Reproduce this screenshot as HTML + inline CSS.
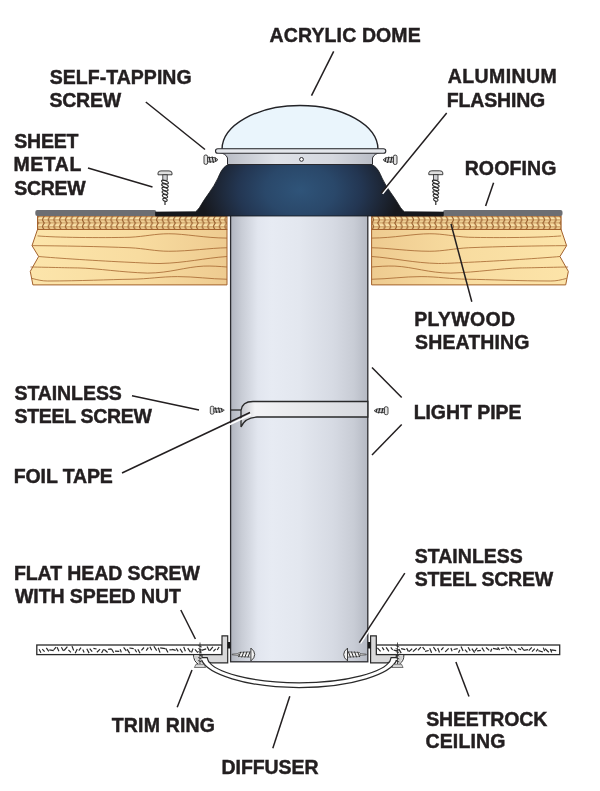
<!DOCTYPE html>
<html><head><meta charset="utf-8">
<style>
html,body{margin:0;padding:0;background:#fff;width:600px;height:791px;overflow:hidden}
svg{position:absolute;left:0;top:0;will-change:transform}
.t{font-family:"Liberation Sans",sans-serif;font-weight:bold;font-size:19.5px;fill:#231f20;stroke:#231f20;stroke-width:0.45px}
</style></head><body>
<svg width="600" height="791" viewBox="0 0 600 791">
<defs>
<linearGradient id="pipeG" x1="0" x2="1" y1="0" y2="0">
<stop offset="0" stop-color="#b1b5bf"/>
<stop offset="0.08" stop-color="#c8ccd5"/>
<stop offset="0.2" stop-color="#e2e6ef"/>
<stop offset="0.3" stop-color="#e7ebf3"/>
<stop offset="0.5" stop-color="#e3e7ef"/>
<stop offset="0.75" stop-color="#d6dae3"/>
<stop offset="0.9" stop-color="#c8ccd5"/>
<stop offset="1" stop-color="#b5b9c3"/>
</linearGradient>
<linearGradient id="woodL" x1="30" x2="227" y1="0" y2="0" gradientUnits="userSpaceOnUse">
<stop offset="0" stop-color="#fce5ab"/>
<stop offset="0.55" stop-color="#f8dca0"/>
<stop offset="1" stop-color="#eecb90"/>
</linearGradient>
<linearGradient id="woodR" x1="371" x2="568" y1="0" y2="0" gradientUnits="userSpaceOnUse">
<stop offset="0" stop-color="#eecb90"/>
<stop offset="0.45" stop-color="#f8dca0"/>
<stop offset="1" stop-color="#fce4a9"/>
</linearGradient>
<radialGradient id="flashG" cx="300" cy="190" r="100" gradientUnits="userSpaceOnUse" gradientTransform="translate(300 190) scale(1 0.7) translate(-300 -190)">
<stop offset="0" stop-color="#2f5479"/>
<stop offset="0.35" stop-color="#2a486a"/>
<stop offset="0.62" stop-color="#233652"/>
<stop offset="0.85" stop-color="#1c2432"/>
<stop offset="1" stop-color="#16181d"/>
</radialGradient>
<linearGradient id="ringG" x1="0" x2="1" y1="0" y2="0">
<stop offset="0" stop-color="#b5b9c2"/>
<stop offset="0.35" stop-color="#dfe2e8"/>
<stop offset="0.7" stop-color="#d5d8df"/>
<stop offset="1" stop-color="#b5b9c2"/>
</linearGradient>
<pattern id="herr" x="2.2" y="216.25" width="5.7" height="6.75" patternUnits="userSpaceOnUse">
<rect width="5.7" height="6.75" fill="#e6c084"/>
<rect y="1.3" width="5.7" height="2" fill="#fce7b0"/>
<rect y="4.6" width="5.7" height="1.6" fill="#efd095"/>
<path d="M0 3.6 L5.7 3.6" stroke="#c08c52" stroke-width="0.7"/>
<path d="M0 6.85 L5.7 6.85" stroke="#b07a44" stroke-width="0.7"/>
<path d="M2.3 -0.2 L0.1 3.5 L2.3 6.95" fill="none" stroke="#93592a" stroke-width="1.05"/>
</pattern>

<linearGradient id="tapeG" x1="241" x2="368" y1="0" y2="0" gradientUnits="userSpaceOnUse">
<stop offset="0" stop-color="#c4c6cc"/>
<stop offset="0.11" stop-color="#f3f3f5"/>
<stop offset="0.5" stop-color="#e7e8eb"/>
<stop offset="1" stop-color="#d6d8dd"/>
</linearGradient>
<linearGradient id="woodLm" x1="30" x2="227" y1="0" y2="0" gradientUnits="userSpaceOnUse">
<stop offset="0" stop-color="#fce4a9"/>
<stop offset="0.55" stop-color="#f8dca0"/>
<stop offset="1" stop-color="#eecb90"/>
</linearGradient>
</defs>

<!-- WOOD LEFT -->
<g id="woodLeft">
<path d="M37.5 229.5 L227 229.5 L227 284.9 L32.9 284.9 L30.25 271.4 L38.65 256.5 L32 245.65 L37.5 229.5 Z" fill="url(#woodL)" stroke="#a3612c" stroke-width="1"/>
<rect x="37.5" y="216" width="189.5" height="13.5" fill="url(#herr)" stroke="#a3612c" stroke-width="1"/>
<g fill="none" stroke="#a5652f" stroke-width="0.8">
<path d="M37.5 235.9 C55 237.5 100 238 130 237.25 C145 236.5 155 233.75 168.75 233.75 C185 233.75 205 238 227 238.1"/>
<path d="M32 245.65 C60 245.8 100 246.5 130 247.75 C145 248.5 155 251.25 168.75 251.25 C190 251.25 210 248 227 247.75"/>
<path d="M38.65 256.5 C55 258 100 261 130 262.3 C145 263 152 263.5 160 263.5 C185 263 205 258 227 256.5"/>
<path d="M30.5 267 C50 267.3 70 267.9 77.5 267.9 C100 268.5 120 272.25 147.75 273.1 C170 273 185 267 203.75 266.1 C212 265.8 220 266.5 227 267"/>
<path d="M32 278.4 C38 280 42 281 47.75 281 C80 281 110 279.5 130 279.25 C150 279 160 276.6 177.5 276.6 C195 276.6 210 279 227 279.25"/>
</g>
</g>
<!-- WOOD RIGHT (mirror) -->
<g transform="translate(598.6 0) scale(-1 1)">
<path d="M37.5 229.5 L227 229.5 L227 284.9 L32.9 284.9 L30.25 271.4 L38.65 256.5 L32 245.65 L37.5 229.5 Z" fill="url(#woodLm)" stroke="#a3612c" stroke-width="1"/>
<g fill="none" stroke="#a5652f" stroke-width="0.8">
<path d="M37.5 235.9 C55 237.5 100 238 130 237.25 C145 236.5 155 233.75 168.75 233.75 C185 233.75 205 238 227 238.1"/>
<path d="M32 245.65 C60 245.8 100 246.5 130 247.75 C145 248.5 155 251.25 168.75 251.25 C190 251.25 210 248 227 247.75"/>
<path d="M38.65 256.5 C55 258 100 261 130 262.3 C145 263 152 263.5 160 263.5 C185 263 205 258 227 256.5"/>
<path d="M30.5 267 C50 267.3 70 267.9 77.5 267.9 C100 268.5 120 272.25 147.75 273.1 C170 273 185 267 203.75 266.1 C212 265.8 220 266.5 227 267"/>
<path d="M32 278.4 C38 280 42 281 47.75 281 C80 281 110 279.5 130 279.25 C150 279 160 276.6 177.5 276.6 C195 276.6 210 279 227 279.25"/>
</g>
</g>
<g transform="translate(598.6 0) scale(-1 1)"><rect x="37.5" y="216" width="189.5" height="13.5" fill="url(#herr)" stroke="#a3612c" stroke-width="1"/></g>
<!-- ROOFING STRIPS -->
<rect x="35.3" y="210" width="121" height="6" rx="2" fill="#6c6e73"/>
<rect x="443" y="210" width="119.5" height="6" rx="2" fill="#6c6e73"/>

<!-- PIPE -->
<rect x="230.6" y="214" width="137.2" height="447.8" fill="url(#pipeG)" stroke="#2c2c30" stroke-width="1.3"/>

<!-- FLASHING -->
<path d="M155.6 212.1 L195.5 211.8 Q197.5 210.5 199.5 207.5 C206 196 213 189 218 178 C222 168 226 164.3 231 164.3 L369 164.3 C374 164.3 378 168 382 178 C387 189 394 196 400.5 207.5 Q402.5 210.5 404.5 211.8 L443.3 212.1 L443.3 216 L155.6 216 Z" fill="url(#flashG)" stroke="#14161b" stroke-width="0.8"/>

<!-- DOME -->
<path d="M222 149.5 A78 44 0 0 1 378 149.5 Z" fill="#eaf5fc" stroke="#232327" stroke-width="1.4"/>
<!-- ring body -->
<path d="M219 152.5 Q226 153.5 227.5 158 L227.5 164.5 L372.5 164.5 L372.5 158 Q374 153.5 381 152.5 Z" fill="url(#ringG)" stroke="#2a2a2e" stroke-width="1"/>
<!-- lip -->
<rect x="215.5" y="148.7" width="170.3" height="4.6" rx="2.3" fill="#e4e7ec" stroke="#2a2a2e" stroke-width="1.1"/>
<circle cx="301.5" cy="159.4" r="1.9" fill="#fff" stroke="#2a2a2e" stroke-width="1"/>


<!-- SCREWS TOP -->
<g transform="translate(165 170.6)">
<path d="M-7 4.2 L-7 2.4 Q-7 0.3 -4 0.3 L4 0.3 Q7 0.3 7 2.4 L7 4.2 Z" fill="#dedede" stroke="#2a2a2a" stroke-width="0.9"/>
<rect x="-2.2" y="4.2" width="4.4" height="5.5" fill="#cfd0d3" stroke="#2a2a2a" stroke-width="0.8"/>
<g fill="none" stroke="#2a2a2a" stroke-width="1.05">
<ellipse cx="0" cy="11.40" rx="3.6" ry="1.45" transform="rotate(20 0 11.40)"/>
<ellipse cx="0" cy="14.95" rx="3.5" ry="1.45" transform="rotate(20 0 14.95)"/>
<ellipse cx="0" cy="18.50" rx="3.3" ry="1.45" transform="rotate(20 0 18.50)"/>
<ellipse cx="0" cy="22.05" rx="3.1" ry="1.45" transform="rotate(20 0 22.05)"/>
<ellipse cx="0" cy="25.60" rx="2.8" ry="1.45" transform="rotate(20 0 25.60)"/>
<ellipse cx="0" cy="29.15" rx="2.3" ry="1.45" transform="rotate(20 0 29.15)"/>
<path d="M0 30.5 L0 34.5" stroke-width="1.2"/>
</g>
</g>
<g transform="translate(435.8 170.5)">
<path d="M-7 4.2 L-7 2.4 Q-7 0.3 -4 0.3 L4 0.3 Q7 0.3 7 2.4 L7 4.2 Z" fill="#dedede" stroke="#2a2a2a" stroke-width="0.9"/>
<rect x="-2.2" y="4.2" width="4.4" height="5.5" fill="#cfd0d3" stroke="#2a2a2a" stroke-width="0.8"/>
<g fill="none" stroke="#2a2a2a" stroke-width="1.05">
<ellipse cx="0" cy="11.40" rx="3.6" ry="1.45" transform="rotate(20 0 11.40)"/>
<ellipse cx="0" cy="14.95" rx="3.5" ry="1.45" transform="rotate(20 0 14.95)"/>
<ellipse cx="0" cy="18.50" rx="3.3" ry="1.45" transform="rotate(20 0 18.50)"/>
<ellipse cx="0" cy="22.05" rx="3.1" ry="1.45" transform="rotate(20 0 22.05)"/>
<ellipse cx="0" cy="25.60" rx="2.8" ry="1.45" transform="rotate(20 0 25.60)"/>
<ellipse cx="0" cy="29.15" rx="2.3" ry="1.45" transform="rotate(20 0 29.15)"/>
<path d="M0 30.5 L0 34.5" stroke-width="1.2"/>
</g>
</g>
<g transform="translate(204 159.7)">
<rect x="0" y="-4.7" width="3.6" height="9.4" rx="1.6" fill="#e4e4e4" stroke="#2a2a2a" stroke-width="0.9"/>
<path d="M3.6 -2.2 L10.8 -2.2 L14 0 L10.8 2.2 L3.6 2.2 Z" fill="#d4d4d6" stroke="#2a2a2a" stroke-width="0.8"/>
<path d="M5 -3.2 L6.4 3.2 M8.1 -3.2 L9.5 3.2 M11 -2.2 L12 2" fill="none" stroke="#2a2a2a" stroke-width="1.15"/>
</g>
<g transform="translate(397 159.8) scale(-1 1)">
<rect x="0" y="-4.7" width="3.6" height="9.4" rx="1.6" fill="#e4e4e4" stroke="#2a2a2a" stroke-width="0.9"/>
<path d="M3.6 -2.2 L10.8 -2.2 L14 0 L10.8 2.2 L3.6 2.2 Z" fill="#d4d4d6" stroke="#2a2a2a" stroke-width="0.8"/>
<path d="M5 -3.2 L6.4 3.2 M8.1 -3.2 L9.5 3.2 M11 -2.2 L12 2" fill="none" stroke="#2a2a2a" stroke-width="1.15"/>
</g>
<!-- TAPE -->
<path d="M230.6 410 L241 410" stroke="#2a2a2a" stroke-width="1.3"/>
<path d="M367.8 401.5 L253 401.5 Q242 401.5 241 410.5 L241 427 Q245 417.5 257 417 L367.8 417 Z" fill="url(#tapeG)" stroke="#2a2a2a" stroke-width="1.3"/>
<g transform="translate(210.3 410.2) scale(1 0.85)">
<rect x="0" y="-4.7" width="3.6" height="9.4" rx="1.6" fill="#e4e4e4" stroke="#2a2a2a" stroke-width="0.9"/>
<path d="M3.6 -2.2 L10.8 -2.2 L14 0 L10.8 2.2 L3.6 2.2 Z" fill="#d4d4d6" stroke="#2a2a2a" stroke-width="0.8"/>
<path d="M5 -3.2 L6.4 3.2 M8.1 -3.2 L9.5 3.2 M11 -2.2 L12 2" fill="none" stroke="#2a2a2a" stroke-width="1.15"/>
</g>
<g transform="translate(388 410.7) scale(-1 0.85)">
<rect x="0" y="-4.7" width="3.6" height="9.4" rx="1.6" fill="#e4e4e4" stroke="#2a2a2a" stroke-width="0.9"/>
<path d="M3.6 -2.2 L10.8 -2.2 L14 0 L10.8 2.2 L3.6 2.2 Z" fill="#d4d4d6" stroke="#2a2a2a" stroke-width="0.8"/>
<path d="M5 -3.2 L6.4 3.2 M8.1 -3.2 L9.5 3.2 M11 -2.2 L12 2" fill="none" stroke="#2a2a2a" stroke-width="1.15"/>
</g>

<!-- SHEETROCK -->
<g fill="#fff" stroke="#2a2a2a" stroke-width="1.3">
<rect x="36.8" y="645" width="185.2" height="9.6"/>
<rect x="376.3" y="645" width="183.4" height="9.6"/>
</g>
<path d="M39.1 649.3L40.9 652.8M42.3 649.2L44.6 651.7M46.3 647.8L48.8 651.4M49.3 649.8L53.7 650.6M56.1 647.2L53.7 649.9M57.1 647.3L58.9 651.2M61.4 647.3L63.5 651.0M67.4 646.7L64.1 650.5M68.4 649.9L70.9 652.4M72.0 646.1L73.7 650.5M77.3 649.1L75.2 653.3M81.0 647.7L78.8 650.7M82.8 649.5L84.1 652.5M86.8 648.8L89.1 653.1M89.7 648.7L92.2 651.7M93.4 648.3L96.6 649.0M100.1 649.1L96.9 652.2M103.6 649.3L101.6 653.0M104.3 649.5L107.6 652.5M108.1 649.4L111.6 648.9M111.7 649.2L113.7 652.7M115.0 651.1L119.3 651.4M120.2 649.3L121.3 652.4M123.6 647.4L126.3 650.9M127.1 649.1L129.7 653.4M129.4 648.0L133.7 648.7M134.8 649.3L136.7 652.3M137.9 649.2L140.0 653.2M144.0 647.5L141.4 650.4M148.3 647.7L146.2 650.7M149.9 646.7L151.7 650.2M153.9 646.2L156.7 650.6M158.2 647.7L160.0 652.6M160.2 647.9L165.2 648.7M165.7 648.4L168.0 652.5M169.4 649.8L172.8 649.6M172.1 649.4L175.7 650.3M176.2 648.3L178.2 651.3M180.0 648.7L182.5 652.6M183.7 646.9L185.4 651.2M187.7 648.2L190.5 652.2M193.1 648.6L191.5 652.4M194.9 649.4L197.9 652.6M199.4 649.3L201.1 652.0M201.6 650.4L206.2 648.9M207.1 646.6L209.2 650.8M212.9 646.9L209.8 650.7M215.7 648.8L213.4 651.4M219.1 647.0L217.2 650.0M377.4 647.9L380.6 651.3M382.2 647.3L384.1 650.2M386.1 647.3L388.9 651.4M390.8 647.3L392.7 650.0M393.6 650.2L398.6 651.0M398.9 649.1L401.2 653.1M401.1 648.6L405.3 649.6M406.6 648.1L408.4 651.4M412.2 648.7L408.9 651.6M416.7 648.2L412.9 651.6M420.9 647.1L417.9 650.4M422.6 647.1L424.8 649.8M425.0 651.3L428.7 650.5M429.7 648.2L431.6 652.8M433.4 647.2L436.2 651.1M437.7 648.0L439.5 652.4M443.5 647.4L441.2 650.0M448.7 648.3L445.2 651.8M450.9 648.0L452.1 651.2M453.6 649.5L457.7 648.7M459.9 649.7L458.5 652.7M461.0 646.6L463.1 651.1M465.0 649.7L467.4 652.3M468.1 647.2L470.2 650.9M471.9 648.7L474.6 652.7M477.3 647.8L474.8 651.2M477.1 650.9L480.9 650.4M481.9 647.7L484.4 651.5M486.0 647.5L489.2 650.4M491.8 648.8L490.6 651.8M493.0 648.4L498.0 649.3M497.7 647.3L499.6 650.2M501.0 648.7L504.5 648.0M505.8 646.5L508.6 650.3M509.3 646.8L512.3 650.4M514.0 649.7L516.4 652.6M517.9 648.5L521.1 649.6M521.3 647.1L523.6 650.0M523.6 650.3L528.1 649.7M531.8 647.4L528.8 650.7M534.8 648.7L532.0 651.6M538.1 648.8L536.1 651.4M538.4 650.6L542.9 652.0M543.3 647.6L544.6 651.1M545.1 648.8L548.8 652.3M550.3 649.0L551.7 652.4M551.4 649.8L556.2 650.6" stroke="#2a2a2a" stroke-width="1.2" fill="none"/>
<!-- DIFFUSER -->
<path d="M201.6 660 C207 673.5 245 687.5 299.15 687.5 C353.3 687.5 391.3 673.5 396.7 660 L389.8 661 C384.3 671.5 348.3 682.8 299.15 682.8 C250 682.8 214 671.5 208.5 661 Z" fill="#fff"/>
<g fill="none" stroke="#2a2a2a" stroke-width="1.25">
<path d="M201.6 660 C207 673.5 245 687.5 299.15 687.5 C353.3 687.5 391.3 673.5 396.7 660"/>
<path d="M208.5 661 C214 671.5 250 682.8 299.15 682.8 C348.3 682.8 384.3 671.5 389.8 661"/>
</g>
<!-- TRIM RINGS -->
<g fill="#d9d9da" stroke="#2a2a2a" stroke-width="1.2" stroke-linejoin="miter">
<path d="M222 635.8 L227.7 635.8 L227.7 662.8 L211 662.8 Q208.3 662.5 207.8 659.5 L207.2 657.6 L202 657.6 L202 654.6 L222 654.6 Z"/>
<path transform="translate(598.3 0) scale(-1 1)" d="M222 635.8 L227.7 635.8 L227.7 662.8 L211 662.8 Q208.3 662.5 207.8 659.5 L207.2 657.6 L202 657.6 L202 654.6 L222 654.6 Z"/>
</g>
<rect x="227.7" y="642" width="2.6" height="6.5" fill="#1a1a1a"/>
<rect x="368" y="642" width="2.6" height="6.5" fill="#1a1a1a"/>
<!-- pipe screws -->
<g transform="translate(250.9 654.5)">
<path d="M-12.5 -2.6 L0 -2.6 L0 2.6 L-12.5 2.6 Z" fill="#f0f0f0"/>
<path d="M-12.5 -0.9 L-18.8 -0.3 L-18.8 0.3 L-12.5 0.9 Z" fill="#e8e8e8" stroke="#2a2a2a" stroke-width="0.6"/>
<g fill="none" stroke="#2a2a2a" stroke-width="1">
<path d="M-0.8 -2.9 L-3 2.9 M-3.9 -2.9 L-6.1 2.9 M-7 -2.9 L-9.2 2.9 M-10.1 -2.7 L-12.3 2.6"/>
<path d="M-12.5 -2 L-0.5 -2.6 M-12.5 2 L-0.5 2.6" stroke-width="0.6"/>
</g>
<path d="M0 -6.4 Q3.8 -3.5 3.8 0 Q3.8 3.5 0 6.4 Z" fill="#f2f2f2" stroke="#2a2a2a" stroke-width="0.9"/>
</g>
<g transform="translate(347.5 654.5) scale(-1 1)">
<path d="M-12.5 -2.6 L0 -2.6 L0 2.6 L-12.5 2.6 Z" fill="#f0f0f0"/>
<path d="M-12.5 -0.9 L-18.8 -0.3 L-18.8 0.3 L-12.5 0.9 Z" fill="#e8e8e8" stroke="#2a2a2a" stroke-width="0.6"/>
<g fill="none" stroke="#2a2a2a" stroke-width="1">
<path d="M-0.8 -2.9 L-3 2.9 M-3.9 -2.9 L-6.1 2.9 M-7 -2.9 L-9.2 2.9 M-10.1 -2.7 L-12.3 2.6"/>
<path d="M-12.5 -2 L-0.5 -2.6 M-12.5 2 L-0.5 2.6" stroke-width="0.6"/>
</g>
<path d="M0 -6.4 Q3.8 -3.5 3.8 0 Q3.8 3.5 0 6.4 Z" fill="#f2f2f2" stroke="#2a2a2a" stroke-width="0.9"/>
</g>
<path d="M193.6 654.8 Q193.5 661 198 664" fill="none" stroke="#2a2a2a" stroke-width="1"/>
<path d="M194.5 655 Q194.6 660.5 198.5 663.5 L200 663.5 L200 655 Z" fill="#d0d0d0"/>
<path d="M403.9 654.8 Q404 661 399.5 664" fill="none" stroke="#2a2a2a" stroke-width="1"/>
<path d="M403 655 Q402.9 660.5 399 663.5 L397.5 663.5 L397.5 655 Z" fill="#d0d0d0"/>
<!-- flat head screws -->
<g transform="translate(200 642.5)">
<path d="M0 0 L0 21.5" stroke="#2a2a2a" stroke-width="0.8"/>
<path d="M-1.8 3 L1.8 4.5 M-1.8 6 L1.8 7.5 M-1.8 9 L1.8 10.5 M-1.8 12 L1.8 13.5 M-1.8 15 L1.8 16.5 M-1.8 18 L1.8 19.5" stroke="#2a2a2a" stroke-width="0.9"/>
<path d="M-4 21.7 L4 21.7 L5.6 25 L-5.6 25 Z" fill="#d6d6d6" stroke="#2a2a2a" stroke-width="0.6"/>
</g>
<g transform="translate(397.5 642.5)">
<path d="M0 0 L0 21.5" stroke="#2a2a2a" stroke-width="0.8"/>
<path d="M-1.8 3 L1.8 4.5 M-1.8 6 L1.8 7.5 M-1.8 9 L1.8 10.5 M-1.8 12 L1.8 13.5 M-1.8 15 L1.8 16.5 M-1.8 18 L1.8 19.5" stroke="#2a2a2a" stroke-width="0.9"/>
<path d="M-4 21.7 L4 21.7 L5.6 25 L-5.6 25 Z" fill="#d6d6d6" stroke="#2a2a2a" stroke-width="0.6"/>
</g>

<!-- LEADER LINES -->
<g stroke="#231f20" stroke-width="1.5" fill="none">
<path d="M333.7 51.3 L311.5 95.7"/>
<path d="M145.8 102 L205 149.5"/>
<path d="M88 168 L152.5 187"/>
<path d="M493.6 182.7 L485.6 206"/>
<path d="M393 181 L382.6 193.8" stroke="#fff" stroke-width="1.7"/>
<path d="M446.7 113 L381.3 193"/>
<path d="M451 224 L471.8 301.8"/>
<path d="M132 395.8 L199 410"/>
<path d="M372 367.5 L401.7 397.5"/>
<path d="M401.7 424.5 L372 455"/>
<path d="M124 474.5 L251 414.5" stroke="#fff" stroke-width="1.6"/>
<path d="M122 473 L250 412.5"/>
<path d="M180.8 610 L195.4 639"/>
<path d="M370.2 629 L360.5 643.4" stroke="#fff" stroke-width="1.5"/>
<path d="M404.8 573.2 L359.3 642.6"/>
<path d="M177.2 707.2 L192 670"/>
<path d="M272.8 748.2 L289.8 696.2"/>
<path d="M455.9 662 L469 696.6"/>
</g>

<g class="t" transform="translate(0 0.5)">
<text x="269.6" y="41" textLength="151.13" lengthAdjust="spacing">ACRYLIC DOME</text>
<text x="49.65" y="83.5" textLength="141.99" lengthAdjust="spacing">SELF-TAPPING</text>
<text x="49.55" y="106" textLength="71.55" lengthAdjust="spacing">SCREW</text>
<text x="447.7" y="82.7" textLength="109.05" lengthAdjust="spacing">ALUMINUM</text>
<text x="446.75" y="106" textLength="98.5" lengthAdjust="spacing">FLASHING</text>
<text x="14.25" y="147.3" textLength="64.11" lengthAdjust="spacing">SHEET</text>
<text x="13.45" y="170.7" textLength="67.85" lengthAdjust="spacing">METAL</text>
<text x="14.25" y="194.2" textLength="71.29" lengthAdjust="spacing">SCREW</text>
<text x="464.65" y="174.6" textLength="91.71" lengthAdjust="spacing">ROOFING</text>
<text x="414.25" y="325.4" textLength="100.79" lengthAdjust="spacing">PLYWOOD</text>
<text x="415.05" y="348.6" textLength="114.34" lengthAdjust="spacing">SHEATHING</text>
<text x="14.45" y="399.6" textLength="107.38" lengthAdjust="spacing">STAINLESS</text>
<text x="14.55" y="422.8" textLength="137.34" lengthAdjust="spacing">STEEL SCREW</text>
<text x="413.65" y="418.4" textLength="107.88" lengthAdjust="spacing">LIGHT PIPE</text>
<text x="13.75" y="482.4" textLength="99.11" lengthAdjust="spacing">FOIL TAPE</text>
<text x="13.95" y="579.4" textLength="185.9" lengthAdjust="spacing">FLAT HEAD SCREW</text>
<text x="15.01" y="602.2" textLength="165.91" lengthAdjust="spacing">WITH SPEED NUT</text>
<text x="414.75" y="562.2" textLength="108.12" lengthAdjust="spacing">STAINLESS</text>
<text x="414.75" y="585.4" textLength="138.4" lengthAdjust="spacing">STEEL SCREW</text>
<text x="111.78" y="731.4" textLength="103.15" lengthAdjust="spacing">TRIM RING</text>
<text x="426.15" y="725" textLength="121.12" lengthAdjust="spacing">SHEETROCK</text>
<text x="425.48" y="747.7" textLength="79.93" lengthAdjust="spacing">CEILING</text>
<text x="221.55" y="773.4" textLength="96.99" lengthAdjust="spacing">DIFFUSER</text>
</g>
</svg>
</body></html>
